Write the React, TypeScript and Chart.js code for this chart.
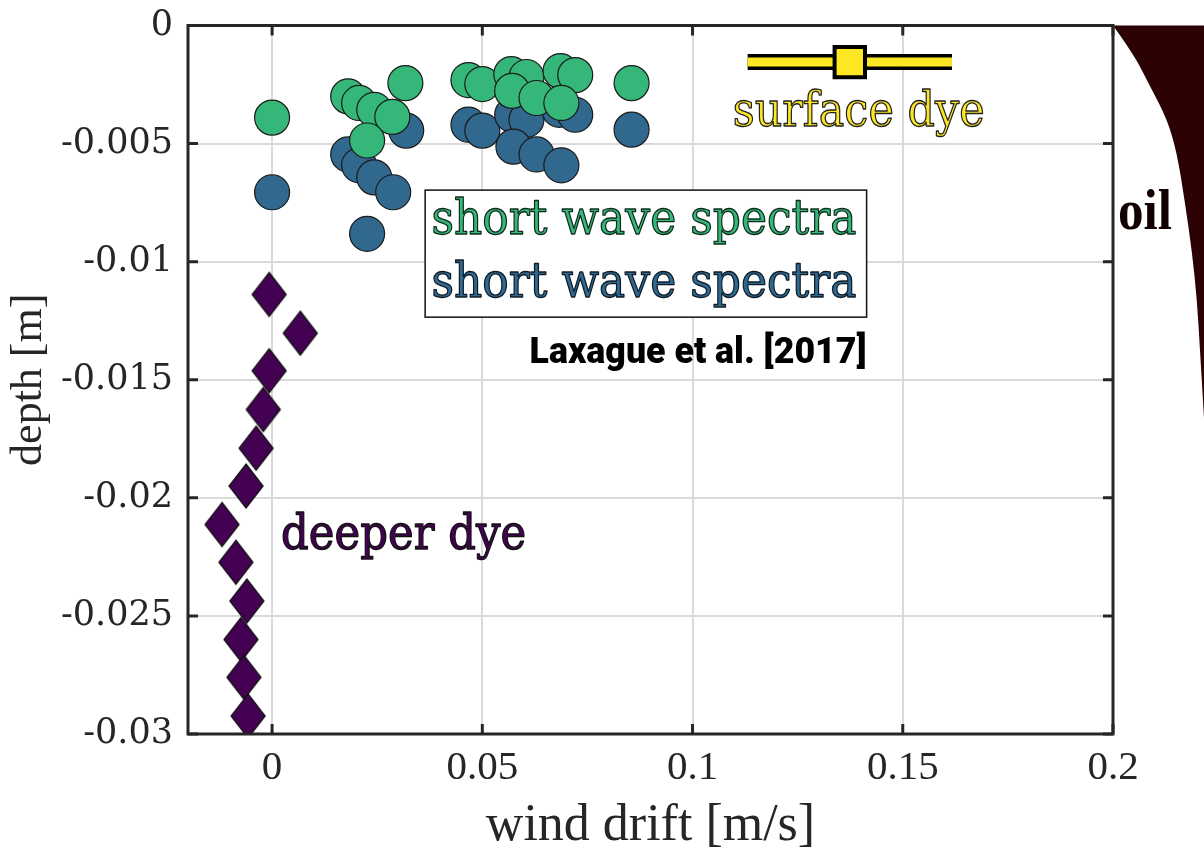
import React, { useEffect, useRef } from 'react';
import { Chart, registerables } from 'chart.js';

Chart.register(...registerables);

// ---- axes ----
const xTicks = [0, 0.05, 0.1, 0.15, 0.2];
const xTickLabels = ['0', '0.05', '0.1', '0.15', '0.2'];
const yTicks = [-0.03, -0.025, -0.02, -0.015, -0.01, -0.005, 0];
const yTickLabels = ['-0.03', '-0.025', '-0.02', '-0.015', '-0.01', '-0.005', '0'];

// ---- short wave spectra (green) ----
const greenDrift = [0.0, 0.0181, 0.0207, 0.0243, 0.0286, 0.0317, 0.0226, 0.0467, 0.05, 0.0569, 0.0605, 0.0571, 0.0629, 0.0686, 0.0721, 0.0688, 0.0855];
const greenDepth = [-0.0039, -0.003, -0.00328, -0.00357, -0.00387, -0.00244, -0.00487, -0.00231, -0.00248, -0.00206, -0.00218, -0.00277, -0.00307, -0.00193, -0.0021, -0.00328, -0.00244];

// ---- short wave spectra (blue) ----
const blueDrift = [0.0, 0.0181, 0.0207, 0.0243, 0.0288, 0.0319, 0.0226, 0.0467, 0.05, 0.0571, 0.0605, 0.0574, 0.0629, 0.0688, 0.0683, 0.0721, 0.0855];
const blueDepth = [-0.00706, -0.00546, -0.00592, -0.00643, -0.00706, -0.00445, -0.00882, -0.0042, -0.00445, -0.00378, -0.00399, -0.00513, -0.00546, -0.00592, -0.00357, -0.00378, -0.00441];

// ---- deeper dye ----
const deepDrift = [-0.0007, 0.0067, -0.0007, -0.0021, -0.0038, -0.0062, -0.0119, -0.0086, -0.006, -0.0074, -0.0067, -0.0057];
const deepDepth = [-0.01139, -0.01303, -0.01462, -0.01626, -0.0179, -0.0195, -0.02113, -0.02273, -0.02437, -0.026, -0.0276, -0.02924];

// ---- surface dye ----
const surfaceDrift = [0.1374];
const surfaceDepth = [-0.00155];
const surfaceRange = [0.1131, 0.1617];

// ---- oil profile ----
const oilDrift = [0.2, 0.2048, 0.2088, 0.2129, 0.2152, 0.2171, 0.2188, 0.22, 0.2207, 0.2214, 0.2221];
const oilDepth = [0, -0.00118, -0.00256, -0.00399, -0.00538, -0.00748, -0.00958, -0.01168, -0.01378, -0.01588, -0.018];

const GREEN = '#35b779';
const BLUE = '#31688e';
const PURPLE = '#440154';
const YELLOW = '#fde725';
const OIL = '#2c0204';
const AXIS = '#262626';

const pts = (xs: number[], ys: number[]) => xs.map((x, i) => ({ x, y: ys[i] }));
const findLabel = (ticks: number[], labels: string[], v: number) => {
  const i = ticks.findIndex((t) => Math.abs(t - v) < 1e-9);
  return i >= 0 ? labels[i] : '';
};

function makeDiamond(): HTMLCanvasElement {
  const c = document.createElement('canvas');
  c.width = 38;
  c.height = 48;
  const g = c.getContext('2d')!;
  g.beginPath();
  g.moveTo(19, 2);
  g.lineTo(36, 24);
  g.lineTo(19, 46);
  g.lineTo(2, 24);
  g.closePath();
  g.fillStyle = PURPLE;
  g.fill();
  g.lineWidth = 1.3;
  g.strokeStyle = '#111';
  g.stroke();
  return c;
}

function drawText(
  ctx: CanvasRenderingContext2D,
  text: string,
  x: number,
  y: number,
  font: string,
  fill: string,
  width: number,
  align: 'left' | 'center' | 'right',
  stroke?: string,
  strokeWidth = 1.2
) {
  ctx.save();
  ctx.font = font;
  ctx.textAlign = 'left';
  ctx.textBaseline = 'alphabetic';
  const m = ctx.measureText(text).width;
  const sx = width / m;
  const x0 = align === 'center' ? x - width / 2 : align === 'right' ? x - width : x;
  ctx.translate(x0, y);
  ctx.scale(sx, 1);
  ctx.fillStyle = fill;
  ctx.fillText(text, 0, 0);
  if (stroke) {
    ctx.lineWidth = strokeWidth / sx;
    ctx.strokeStyle = stroke;
    ctx.lineJoin = 'round';
    ctx.strokeText(text, 0, 0);
  }
  ctx.restore();
}

const decorPlugin = {
  id: 'decor',
  afterDatasetsDraw(chart: any) {
    const { ctx, chartArea } = chart;
    const xs = chart.scales.x;
    const ys = chart.scales.y;
    const X = (v: number) => xs.getPixelForValue(v);
    const Y = (v: number) => ys.getPixelForValue(v);
    ctx.save();

    // oil profile (outside the axes, to the right), smoothed through midpoints
    const px = oilDrift.map(X);
    const py = oilDepth.map(Y);
    ctx.beginPath();
    ctx.moveTo(px[0], py[0]);
    for (let i = 1; i < px.length - 1; i++) {
      const mx = (px[i] + px[i + 1]) / 2;
      const my = (py[i] + py[i + 1]) / 2;
      ctx.quadraticCurveTo(px[i], py[i], mx, my);
    }
    ctx.lineTo(px[px.length - 1], py[py.length - 1]);
    ctx.lineTo(X(0.26), py[py.length - 1]);
    ctx.lineTo(X(0.26), Y(0));
    ctx.closePath();
    ctx.fillStyle = OIL;
    ctx.fill();

    // axes box
    ctx.lineWidth = 3;
    ctx.strokeStyle = AXIS;
    ctx.strokeRect(chartArea.left, chartArea.top, chartArea.right - chartArea.left, chartArea.bottom - chartArea.top);

    // inward ticks on all four sides
    const tl = 10;
    ctx.beginPath();
    xTicks.forEach((v) => {
      const x = X(v);
      ctx.moveTo(x, chartArea.bottom);
      ctx.lineTo(x, chartArea.bottom - tl);
      ctx.moveTo(x, chartArea.top);
      ctx.lineTo(x, chartArea.top + tl);
    });
    yTicks.forEach((v) => {
      const y = Y(v);
      ctx.moveTo(chartArea.left, y);
      ctx.lineTo(chartArea.left + tl, y);
      ctx.moveTo(chartArea.right, y);
      ctx.lineTo(chartArea.right - tl, y);
    });
    ctx.stroke();

    // legend box for short wave spectra
    const bx0 = X(0.0364), bx1 = X(0.1414), by0 = Y(-0.00697), by1 = Y(-0.01235);
    ctx.fillStyle = '#ffffff';
    ctx.fillRect(bx0, by0, bx1 - bx0, by1 - by0);
    ctx.lineWidth = 1.5;
    ctx.strokeStyle = '#111';
    ctx.strokeRect(bx0, by0, bx1 - bx0, by1 - by0);
    ctx.restore();

    const serif = "48px 'DejaVu Serif'";
    drawText(ctx, 'short wave spectra', X(0.0379), Y(-0.00882), serif, GREEN, 425, 'left', '#0d2a1a');
    drawText(ctx, 'short wave spectra', X(0.0379), Y(-0.01151), serif, BLUE, 425, 'left', '#0b1a26');
    drawText(ctx, 'surface dye', X(0.1395), Y(-0.00424), serif, YELLOW, 252, 'center', '#222');
    drawText(ctx, 'deeper dye', X(0.00214), Y(-0.02218), serif, PURPLE, 245, 'left', '#111');
    drawText(ctx, 'Laxague et al. [2017]', X(0.1414), Y(-0.01429), "900 37px Roboto", '#000', 337, 'right');
    drawText(ctx, 'oil', X(0.2012), Y(-0.00861), "bold 56px 'Liberation Serif'", '#120000', 54, 'left');
  },
};

export default function App() {
  const ref = useRef<HTMLCanvasElement>(null);

  useEffect(() => {
    const diamond = makeDiamond();
    const chart = new Chart(ref.current!, {
      type: 'scatter',
      data: {
        datasets: [
          {
            label: 'surface dye',
            data: pts(surfaceDrift, surfaceDepth),
            pointStyle: 'rect',
            pointRadius: 21.5,
            backgroundColor: YELLOW,
            borderColor: '#000',
            borderWidth: 4,
          },
          {
            label: 'surface dye range',
            data: pts(surfaceRange, [surfaceDepth[0], surfaceDepth[0]]),
            showLine: true,
            borderColor: YELLOW,
            borderWidth: 9,
            borderCapStyle: 'butt',
            pointRadius: 0,
          },
          {
            label: 'surface dye range outline',
            data: pts(surfaceRange, [surfaceDepth[0], surfaceDepth[0]]),
            showLine: true,
            borderColor: '#000',
            borderWidth: 16,
            borderCapStyle: 'butt',
            pointRadius: 0,
          },
          {
            label: 'short wave spectra (green)',
            data: pts(greenDrift, greenDepth),
            pointStyle: 'circle',
            pointRadius: 17.5,
            backgroundColor: GREEN,
            borderColor: '#1a1a1a',
            borderWidth: 1.2,
          },
          {
            label: 'short wave spectra (blue)',
            data: pts(blueDrift, blueDepth),
            pointStyle: 'circle',
            pointRadius: 17.5,
            backgroundColor: BLUE,
            borderColor: '#1a1a1a',
            borderWidth: 1.2,
          },
          {
            label: 'deeper dye',
            data: pts(deepDrift, deepDepth),
            pointStyle: diamond,
            pointRadius: 20,
            backgroundColor: PURPLE,
          },
        ],
      },
      options: {
        responsive: false,
        animation: false,
        devicePixelRatio: 1,
        layout: { padding: { top: 22, right: 91, left: 0, bottom: 0 } },
        plugins: { legend: { display: false }, tooltip: { enabled: false } },
        scales: {
          x: {
            type: 'linear',
            min: -0.02,
            max: 0.2,
            afterBuildTicks: (s: any) => {
              s.ticks = xTicks.map((v) => ({ value: v }));
            },
            afterFit: (s: any) => {
              s.height = 120;
              s.paddingLeft = 0;
              s.paddingRight = 0;
            },
            grid: { color: '#dadada', lineWidth: 2, drawTicks: false },
            border: { display: false },
            ticks: {
              autoSkip: false,
              maxRotation: 0,
              padding: 14,
              color: AXIS,
              font: { family: "'Liberation Serif'", size: 41, lineHeight: 1 },
              callback: (v: any) => findLabel(xTicks, xTickLabels, Number(v)),
            },
            title: {
              display: true,
              text: 'wind drift [m/s]',
              color: AXIS,
              font: { family: "'Liberation Serif'", size: 52, lineHeight: 1 },
              padding: { top: 0, bottom: 2 },
            },
          },
          y: {
            type: 'linear',
            min: -0.03,
            max: 0,
            afterBuildTicks: (s: any) => {
              s.ticks = yTicks.map((v) => ({ value: v }));
            },
            afterFit: (s: any) => {
              s.width = 188;
              s.paddingTop = 0;
              s.paddingBottom = 0;
            },
            grid: { color: '#dadada', lineWidth: 2, drawTicks: false },
            border: { display: false },
            ticks: {
              autoSkip: false,
              padding: 15,
              color: AXIS,
              font: { family: "'DejaVu Serif'", size: 35, lineHeight: 1 },
              callback: (v: any) => findLabel(yTicks, yTickLabels, Number(v)),
            },
            title: {
              display: true,
              text: 'depth [m]',
              color: AXIS,
              font: { family: "'Liberation Serif'", size: 44, lineHeight: 1 },
              padding: { top: 7, bottom: 0 },
            },
          },
        },
      },
      plugins: [decorPlugin],
    } as any);
    return () => chart.destroy();
  }, []);

  return (
    <div style={{ position: 'absolute', left: 0, top: 0, width: 1204, height: 854, background: '#fff' }}>
      <canvas ref={ref} width={1204} height={854} style={{ display: 'block' }} />
    </div>
  );
}
